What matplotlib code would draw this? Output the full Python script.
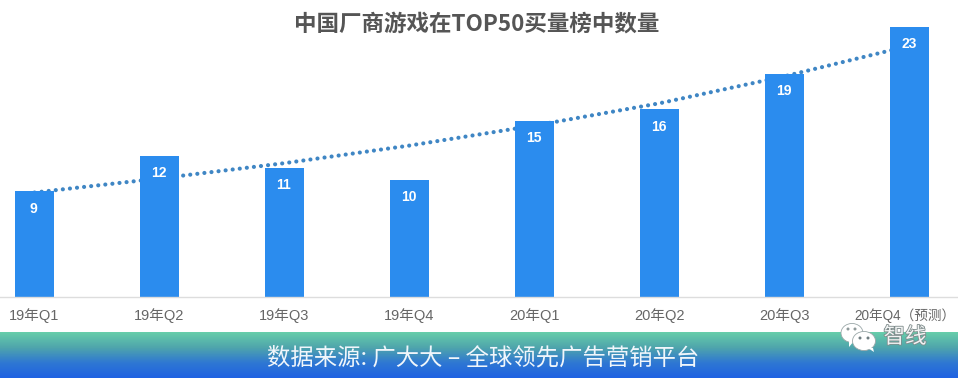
import numpy as np
import matplotlib
matplotlib.use('Agg')
import matplotlib.pyplot as plt
from matplotlib.colors import LinearSegmentedColormap
from matplotlib.patches import Ellipse, Polygon
from matplotlib.transforms import ScaledTranslation
import matplotlib.patheffects as pe

plt.rcParams['font.family'] = ['Noto Sans CJK SC', 'DejaVu Sans']

# 数据
quarters = ['19年Q1', '19年Q2', '19年Q3', '19年Q4', '20年Q1', '20年Q2', '20年Q3', '20年Q4（预测）']
counts = [9, 12, 11, 10, 15, 16, 19, 23]
trend = [8.9, 10.1, 11.4, 12.9, 14.6, 16.5, 18.8, 21.4]

W, H = 958, 378
BAR_BLUE = '#2b8cee'
LINE_BLUE = '#3f86c4'
UNIT = 125

fig = plt.figure(figsize=(W / 100, H / 100), dpi=100, facecolor='white')

# 主图
ax = fig.add_axes([0, (H - 297) / H, 1, 297 / H])
ax.set_xlim(-34.5 / UNIT, (W - 34.5) / UNIT)
ax.set_ylim(0, 297 / 11.74)
x = np.arange(len(quarters))
ax.plot(x, trend, color=LINE_BLUE, lw=3, ls=(0, (0.01, 1.7)), dash_capstyle='round', zorder=1)
ax.bar(x, counts, width=39 / UNIT, color=BAR_BLUE, zorder=2)

# 柱内数字
for xi, c in zip(x, counts):
    ax.annotate(str(c), (xi, c), xytext=(-0.5, -12.5), textcoords='offset points',
                ha='center', va='center', color='white', fontsize=10, fontweight='bold',
                family=['Liberation Sans'], zorder=3)

for s in ['top', 'left', 'right']:
    ax.spines[s].set_visible(False)
ax.spines['bottom'].set_color('#dddddd')
ax.spines['bottom'].set_linewidth(1)
ax.set_yticks([])
ax.set_xticks(x)
ax.set_xticklabels(quarters, fontsize=10.5, color='#666666', fontweight='light',
                   family=['Liberation Sans', 'Noto Sans CJK SC'])
ax.tick_params(axis='x', length=0, pad=16.5)
for lab in ax.get_xticklabels():
    lab.set_verticalalignment('baseline')
last = ax.get_xticklabels()[-1]
last.set_fontsize(9.8)
last.set_transform(last.get_transform() + ScaledTranslation(-5 / 100, 0, fig.dpi_scale_trans))

fig.text(477 / W, 1 - 24 / H, '中国厂商游戏在TOP50买量榜中数量', ha='center', va='center',
         fontsize=16.2, fontweight='bold', color='#555555')

# 底部渐变条
banner = fig.add_axes([0, 0, 1, 46 / H])
cmap = LinearSegmentedColormap.from_list('banner', ['#66cdaa', '#4fa5ac', '#2f78d2', '#1f62e2'])
banner.imshow(np.linspace(0, 1, 46).reshape(-1, 1), aspect='auto', cmap=cmap, extent=[0, W, 378, 332])
banner.set_xlim(0, W)
banner.set_ylim(378, 332)
banner.axis('off')
banner.text(483, 358, '数据来源: 广大大 – 全球领先广告营销平台', ha='center', va='center',
            color='#f0f6fb', fontsize=16.8)

# 水印
over = fig.add_axes([0, 0, 1, 1])
over.set_xlim(0, W)
over.set_ylim(H, 0)
over.axis('off')
over.patch.set_alpha(0)
over.add_patch(Ellipse((852, 333), 22, 19, fc='white', ec='#9aa7a8', lw=0.6))
over.add_patch(Polygon([[849, 341], [854, 341], [849, 347]], fc='white', ec='none'))
over.add_patch(Ellipse((864, 341), 23, 19, fc='white', ec='#9aa7a8', lw=0.6))
over.add_patch(Polygon([[868, 348], [873, 348], [874, 352]], fc='white', ec='none'))
for px, py in [(848, 329), (855, 329)]:
    over.add_patch(Ellipse((px, py), 3, 3, fc='#8f9a9b', ec='none'))
for px, py in [(860, 338), (868, 338)]:
    over.add_patch(Ellipse((px, py), 3, 3, fc='#6f7d80', ec='none'))
over.text(905, 337, '智线', ha='center', va='center', color='#f2f4f4', fontsize=15.5,
          path_effects=[pe.withStroke(linewidth=1.2, foreground='#7f8c8c')])

fig.savefig('out.png', dpi=100)
